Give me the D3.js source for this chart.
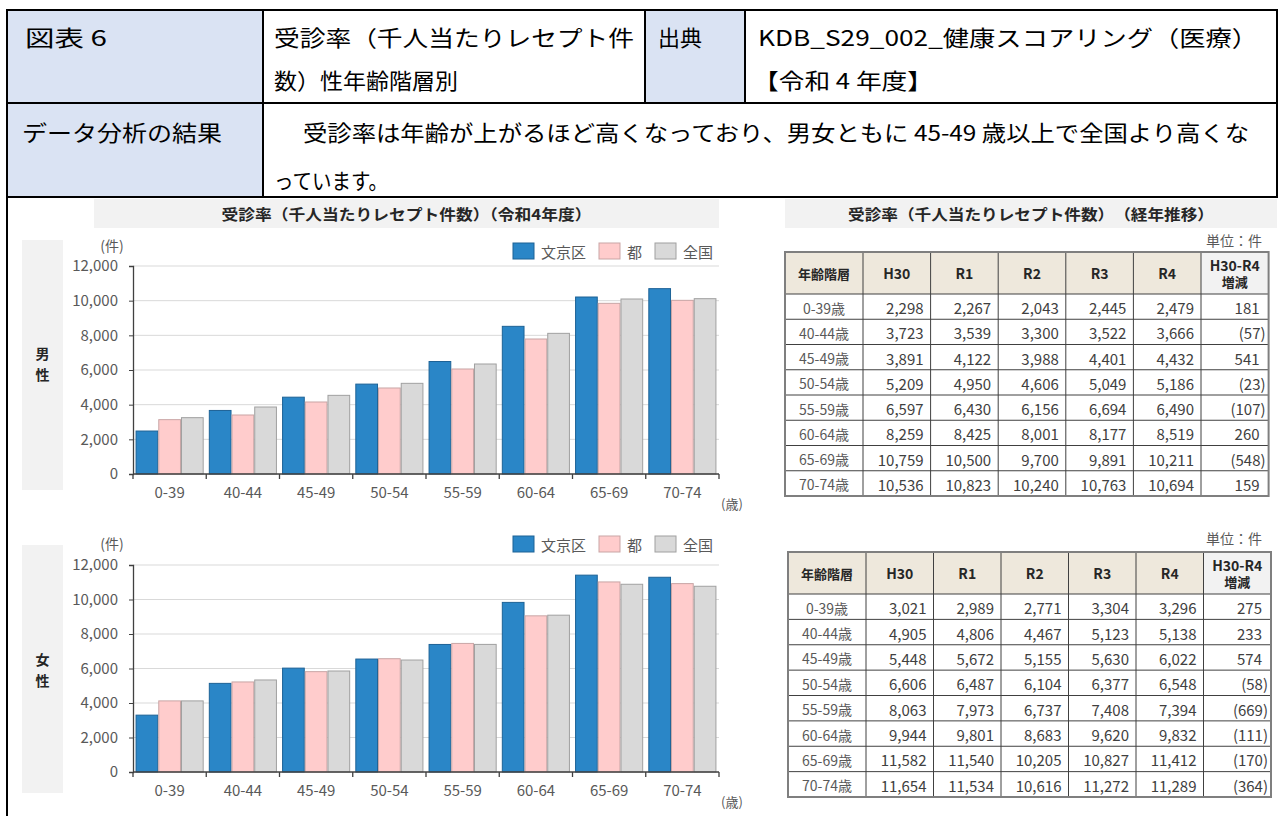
<!DOCTYPE html>
<html><head><meta charset="utf-8">
<script src="https://cdn.jsdelivr.net/npm/d3@7"></script>
<style>
body{margin:0;background:#fff}
svg{display:block}
text{font-family:"Noto Sans CJK JP","Noto Sans",sans-serif}
</style>
</head><body>
<svg id="c" width="1279" height="816"></svg>
<script>
// ---------- DATA ----------
const ageGroups = ["0-39","40-44","45-49","50-54","55-59","60-64","65-69","70-74"];
const seriesNames = ["文京区","都","全国"];
const maleBunkyo   = [2479,3666,4432,5186,6490,8519,10211,10694];
const maleTokyo    = [3135,3404,4154,4962,6058,7788,9846,10019];
const maleNational = [3250,3865,4538,5231,6346,8115,10096,10115];
const femaleBunkyo   = [3296,5138,6022,6548,7394,9832,11412,11289];
const femaleTokyo    = [4122,5220,5817,6568,7454,9053,11018,10921];
const femaleNational = [4122,5335,5855,6491,7397,9091,10883,10767];
const yTickValues = [0,2000,4000,6000,8000,10000,12000];

const tableHeaders = ["年齢階層","H30","R1","R2","R3","R4","H30-R4\n増減"];
const tableAgeLabels = ["0-39歳","40-44歳","45-49歳","50-54歳","55-59歳","60-64歳","65-69歳","70-74歳"];
const maleTableRows = [
  [2298,2267,2043,2445,2479,181],
  [3723,3539,3300,3522,3666,-57],
  [3891,4122,3988,4401,4432,541],
  [5209,4950,4606,5049,5186,-23],
  [6597,6430,6156,6694,6490,-107],
  [8259,8425,8001,8177,8519,260],
  [10759,10500,9700,9891,10211,-548],
  [10536,10823,10240,10763,10694,159]
];
const femaleTableRows = [
  [3021,2989,2771,3304,3296,275],
  [4905,4806,4467,5123,5138,233],
  [5448,5672,5155,5630,6022,574],
  [6606,6487,6104,6377,6548,-58],
  [8063,7973,6737,7408,7394,-669],
  [9944,9801,8683,9620,9832,-111],
  [11582,11540,10205,10827,11412,-170],
  [11654,11534,10616,11272,11289,-364]
];

// ---------- DRAW ----------
const svg = d3.select("#c");
const FONT = '"Noto Sans CJK JP","Noto Sans",sans-serif';
const LATIN = '"Liberation Sans","Noto Sans CJK JP",sans-serif';
const blueCell = "#dae3f3";

// Header table
const hdr = svg.append("g");
hdr.append("rect").attr("x",7).attr("y",10).attr("width",256).attr("height",187).attr("fill",blueCell);
hdr.append("rect").attr("x",645).attr("y",10).attr("width",100).attr("height",93).attr("fill",blueCell);
const hl = (x1,y1,x2,y2)=>hdr.append("line").attr("x1",x1).attr("y1",y1).attr("x2",x2).attr("y2",y2)
  .attr("stroke","#000").attr("stroke-width",2);
hl(6,10,1278,10); hl(6,103,1278,103); hl(6,197,1278,197);
hl(7,9,7,816); hl(263,10,263,197); hl(645,10,645,103); hl(745,10,745,103); hl(1277,9,1277,197);

const htxt = (x,y,s,len)=>{
  const t = hdr.append("text").attr("x",x).attr("y",y).attr("dominant-baseline","central")
    .attr("font-size",22).attr("fill","#000").text(s);
  if(len) t.attr("textLength",len).attr("lengthAdjust","spacingAndGlyphs");
  return t;
};
htxt(25,36,"図表 6",82);
htxt(274,36,"受診率（千人当たりレセプト件",360);
htxt(274,79,"数）性年齢階層別",184);
htxt(658,36,"出典");
htxt(758,36,"KDB_S29_002_健康スコアリング（医療）",500);
htxt(753,79,"【令和 4 年度】",180);
htxt(22,131,"データ分析の結果",200);
htxt(303,131,"受診率は年齢が上がるほど高くなっており、男女ともに 45-49 歳以上で全国より高くな",946);
htxt(274,179,"っています。",114);

// Section title bars
function titleBar(x,w,label,len){
  svg.append("rect").attr("x",x).attr("y",199).attr("width",w).attr("height",29).attr("fill","#f2f2f2");
  svg.append("text").attr("x",x+w/2).attr("y",213).attr("text-anchor","middle").attr("dominant-baseline","central")
    .attr("font-size",15).attr("font-weight","bold").attr("fill","#262626")
    .attr("textLength",len).attr("lengthAdjust","spacingAndGlyphs").text(label);
}
titleBar(94,625,"受診率（千人当たりレセプト件数）（令和4年度）",370);
titleBar(785,492,"受診率（千人当たりレセプト件数）　（経年推移）",366);

// Bar chart
const seriesFill = ["#2a86c7","#ffcccc","#d9d9d9"];
const seriesStroke = ["#1d6296","#c9a5a5","#a0a0a0"];

function drawChart(cfg){
  const g = svg.append("g");
  const x0 = d3.scaleBand().domain(ageGroups).range([133,719]).paddingInner(0.07).paddingOuter(0.035);
  const x1 = d3.scaleBand().domain(seriesNames).range([0,x0.bandwidth()]).padding(0);
  const y = d3.scaleLinear().domain([0,12000]).range([cfg.y0,cfg.y1]);

  // side label box
  g.append("rect").attr("x",22).attr("y",cfg.boxTop).attr("width",41).attr("height",cfg.boxBottom-cfg.boxTop).attr("fill","#f2f2f2");
  cfg.sideLabel.forEach((ch,i)=>{
    g.append("text").attr("x",42.5).attr("y",cfg.sideY+i*20.5).attr("text-anchor","middle").attr("dominant-baseline","central")
      .attr("font-size",14).attr("font-weight","bold").attr("fill","#262626").text(ch);
  });

  // gridlines
  g.append("g").selectAll("line").data(yTickValues.filter(v=>v>0)).join("line")
    .attr("x1",133).attr("x2",719).attr("y1",d=>y(d)).attr("y2",d=>y(d))
    .attr("stroke","#d9d9d9").attr("stroke-width",1);

  // bars
  const data = ageGroups.map((a,i)=>({age:a, vals:cfg.series.map(s=>s[i])}));
  const grp = g.append("g").selectAll("g").data(data).join("g").attr("transform",d=>`translate(${x0(d.age)},0)`);
  grp.selectAll("rect").data(d=>d.vals.map((v,k)=>({k,v}))).join("rect")
    .attr("x",d=>x1(seriesNames[d.k])+0.5).attr("width",x1.bandwidth()-1)
    .attr("y",d=>y(d.v)).attr("height",d=>y(0)-y(d.v))
    .attr("fill",d=>seriesFill[d.k]).attr("stroke",d=>seriesStroke[d.k]).attr("stroke-width",1);

  // y axis
  const ya = d3.axisLeft(y).tickValues(yTickValues).tickFormat(d3.format(",")).tickSize(4).tickPadding(11);
  const yg = g.append("g").attr("transform","translate(133,0)").call(ya);
  yg.select(".domain").attr("stroke","#404040").attr("stroke-width",1.3);
  yg.selectAll(".tick line").attr("stroke","#404040");
  yg.selectAll(".tick text").attr("font-family",FONT).attr("font-size",15).attr("fill","#595959");

  // x axis
  const xa = d3.axisBottom(x0).tickSize(0).tickPadding(13);
  const xg = g.append("g").attr("transform",`translate(0,${cfg.y0})`).call(xa);
  xg.select(".domain").attr("stroke","#404040").attr("stroke-width",1.3).attr("d","M133,0H719");
  xg.selectAll(".tick text").attr("font-family",FONT).attr("font-size",15).attr("fill","#595959");
  // boundary tick marks
  const bounds = d3.range(ageGroups.length+1).map(i=>x0.range()[0]+i*x0.step());
  g.append("g").selectAll("line").data(bounds).join("line")
    .attr("x1",d=>d).attr("x2",d=>d).attr("y1",cfg.y0).attr("y2",cfg.y0+5).attr("stroke","#404040").attr("stroke-width",1.3);

  // unit labels
  g.append("text").attr("x",112).attr("y",cfg.unitY).attr("text-anchor","middle").attr("dominant-baseline","central")
    .attr("font-size",14).attr("fill","#595959").text("(件)");
  g.append("text").attr("x",721).attr("y",cfg.y0+29).attr("dominant-baseline","central")
    .attr("font-size",13).attr("fill","#595959").text("(歳)");

  // legend
  const lx = [513,599,655];
  seriesNames.forEach((n,k)=>{
    g.append("rect").attr("x",lx[k]).attr("y",cfg.legY-8).attr("width",21).attr("height",16)
      .attr("fill",seriesFill[k]).attr("stroke",seriesStroke[k]);
    g.append("text").attr("x",lx[k]+28).attr("y",cfg.legY).attr("dominant-baseline","central")
      .attr("font-size",15).attr("fill","#595959").text(n);
  });
}

drawChart({series:[maleBunkyo,maleTokyo,maleNational], y0:474, y1:266, boxTop:240, boxBottom:490,
  sideLabel:["男","性"], sideY:353, unitY:245, legY:251});
drawChart({series:[femaleBunkyo,femaleTokyo,femaleNational], y0:772, y1:565, boxTop:545, boxBottom:793,
  sideLabel:["女","性"], sideY:659, unitY:543, legY:544});

// Tables
function drawTable(cfg){
  const g = svg.append("g");
  const colW = [78].concat(d3.range(6).map(()=>cfg.colStep));
  const colX = colW.reduce((a,w,i)=>{a.push(a[i]+w);return a;},[cfg.x]);
  const rowY = d3.scaleBand().domain(tableAgeLabels).range([cfg.headBottom,cfg.bottom]);
  const right = colX[colX.length-1];

  g.append("text").attr("x",1262).attr("y",cfg.unitY).attr("text-anchor","end").attr("dominant-baseline","central")
    .attr("font-size",14).attr("fill","#595959").text("単位：件");

  // header fills
  tableHeaders.forEach((h,i)=>{
    g.append("rect").attr("x",colX[i]).attr("y",cfg.top).attr("width",colW[i]).attr("height",cfg.headBottom-cfg.top)
      .attr("fill", i===6 ? "#f2f2f2" : "#eee8dc");
    const lines = h.split("\n");
    const cx = colX[i]+colW[i]/2, cy=(cfg.top+cfg.headBottom)/2;
    lines.forEach((ln,j)=>{
      const latin = /^[A-Z0-9-]+$/.test(ln);
      g.append("text").attr("x",cx).attr("y",cy+(j-(lines.length-1)/2)*17).attr("text-anchor","middle")
        .attr("dominant-baseline","central").attr("font-family",latin?LATIN:FONT)
        .attr("font-size",latin?14:13).attr("font-weight","bold").attr("fill","#262626").text(ln);
    });
  });

  // rows
  const fmt = d3.format(",");
  cfg.rows.forEach((r,ri)=>{
    const age = tableAgeLabels[ri];
    const cy = rowY(age)+rowY.bandwidth()/2+1;
    g.append("text").attr("x",colX[0]+colW[0]/2).attr("y",cy).attr("text-anchor","middle").attr("dominant-baseline","central")
      .attr("font-size",14).attr("fill","#595959").text(age);
    r.forEach((v,ci)=>{
      const isDiff = ci===5;
      const txt = isDiff && v<0 ? "("+fmt(-v)+")" : fmt(v);
      const xr = colX[ci+2]-(isDiff ? (v<0?3:9) : 7);
      g.append("text").attr("x",xr).attr("y",cy).attr("text-anchor","end").attr("dominant-baseline","central")
        .attr("font-size",15).attr("fill","#404040").text(txt);
    });
  });

  // grid lines
  const lines = g.append("g").attr("stroke","#404040").attr("stroke-width",1);
  [cfg.headBottom].concat(tableAgeLabels.slice(1).map(a=>rowY(a))).forEach(yy=>{
    lines.append("line").attr("x1",cfg.x).attr("x2",right).attr("y1",yy).attr("y2",yy);
  });
  colX.slice(1,-1).forEach(xx=>{
    lines.append("line").attr("x1",xx).attr("x2",xx).attr("y1",cfg.top).attr("y2",cfg.bottom);
  });
  g.append("rect").attr("x",cfg.x).attr("y",cfg.top).attr("width",right-cfg.x).attr("height",cfg.bottom-cfg.top)
    .attr("fill","none").attr("stroke","#7f7f7f").attr("stroke-width",2);
}

drawTable({x:785, colStep:67.6, top:252, headBottom:294, bottom:496, unitY:240, rows:maleTableRows});
drawTable({x:788, colStep:67.5, top:552, headBottom:594, bottom:797, unitY:538, rows:femaleTableRows});
</script>
</body></html>
